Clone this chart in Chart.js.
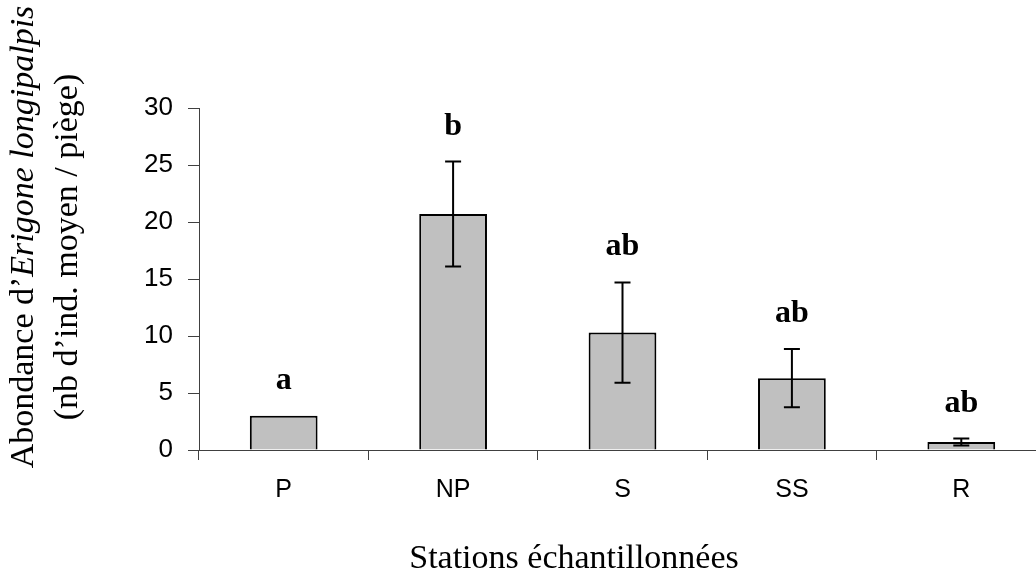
<!DOCTYPE html>
<html>
<head>
<meta charset="utf-8">
<script src="https://cdn.jsdelivr.net/npm/chart.js@4"></script>
<style>
html,body{margin:0;padding:0;background:#fff;overflow:hidden}
#wrap{width:1036px;height:570px;overflow:hidden;position:relative;background:#fff}
#wrap canvas{position:absolute;left:0;top:0}
</style>
</head>
<body>
<div id="wrap"><canvas id="c" width="1046" height="570"></canvas></div>
<script>
// ---- data ----
const categories = ['P', 'NP', 'S', 'SS', 'R'];
const means = [3.0, 20.7, 10.3, 6.3, 0.7];
const errors = [0, 4.6, 4.4, 2.55, 0.3];
const groupLetters = ['a', 'b', 'ab', 'ab', 'ab'];
const yTickValues = [0, 5, 10, 15, 20, 25, 30];
const xTitle = 'Stations échantillonnées';
const yTitleLine1 = [['Abondance d\u2019', 'normal'], ['Erigone longipalpis', 'italic']];
const yTitleLine2 = '(nb d\u2019ind. moyen / piège)';

const AXIS = '#404040';

const annotPlugin = {
  id: 'annot',
  afterDatasetsDraw(chart) {
    const ctx = chart.ctx;
    const xs = chart.scales.x, ys = chart.scales.y;
    ctx.save();
    // error bars
    ctx.strokeStyle = '#000';
    ctx.lineWidth = 2;
    means.forEach((m, i) => {
      const e = errors[i];
      const cx = xs.getPixelForValue(i);
      if (e > 0) {
        const yt = ys.getPixelForValue(m + e);
        const yb = ys.getPixelForValue(m - e);
        ctx.beginPath();
        ctx.moveTo(cx, yt); ctx.lineTo(cx, yb);
        ctx.moveTo(cx - 8, yt); ctx.lineTo(cx + 8, yt);
        ctx.moveTo(cx - 8, yb); ctx.lineTo(cx + 8, yb);
        ctx.stroke();
      }
      // significance letters
      ctx.fillStyle = '#000';
      ctx.font = 'bold 32px "Liberation Serif", "Times New Roman", serif';
      ctx.textAlign = 'center';
      ctx.textBaseline = 'alphabetic';
      ctx.fillText(groupLetters[i], cx, ys.getPixelForValue(m + e) - 27);
    });
    // x title
    ctx.font = '34px "Liberation Serif", "Times New Roman", serif';
    ctx.textAlign = 'center';
    ctx.fillText(xTitle, 574, 568);
    // y title, line 1 (mixed styles)
    ctx.save();
    ctx.translate(33, 237);
    ctx.rotate(-Math.PI / 2);
    ctx.textAlign = 'left';
    const f1 = s => (s === 'italic' ? 'italic ' : '') + '34px "Liberation Serif", "Times New Roman", serif';
    let total = 0;
    yTitleLine1.forEach(([t, s]) => { ctx.font = f1(s); total += ctx.measureText(t).width; });
    let x0 = -total / 2;
    yTitleLine1.forEach(([t, s]) => { ctx.font = f1(s); ctx.fillText(t, x0, 0); x0 += ctx.measureText(t).width; });
    ctx.restore();
    // y title, line 2
    ctx.save();
    ctx.translate(77, 247);
    ctx.rotate(-Math.PI / 2);
    ctx.textAlign = 'center';
    ctx.font = '34px "Liberation Serif", "Times New Roman", serif';
    ctx.fillText(yTitleLine2, 0, 0);
    ctx.restore();
    ctx.restore();
  }
};

new Chart(document.getElementById('c'), {
  type: 'bar',
  data: {
    labels: categories,
    datasets: [{
      data: means,
      backgroundColor: '#C0C0C0',
      borderColor: '#000',
      borderWidth: 2,
      barPercentage: 0.4,
      categoryPercentage: 1.0
    }]
  },
  options: {
    responsive: false,
    animation: false,
    devicePixelRatio: 1,
    layout: { padding: { top: 108, left: 0, right: 0, bottom: 0 } },
    plugins: { legend: { display: false }, tooltip: { enabled: false } },
    scales: {
      x: {
        type: 'category',
        offset: true,
        grid: { offset: true, drawOnChartArea: false, drawTicks: true, tickLength: 10, color: AXIS, lineWidth: 1 },
        border: { display: true, color: AXIS, width: 1 },
        ticks: { color: '#000', padding: 15, font: { family: '"Liberation Sans", Arial, sans-serif', size: 25 }, maxRotation: 0 },
        afterFit(s) { s.height = 120; }
      },
      y: {
        min: 0,
        max: 30,
        afterBuildTicks(s) { s.ticks = yTickValues.map(v => ({ value: v })); },
        grid: { drawOnChartArea: false, drawTicks: true, tickLength: 11, color: AXIS, lineWidth: 1 },
        border: { display: true, color: AXIS, width: 1 },
        ticks: { color: '#000', padding: 15, font: { family: '"Liberation Sans", Arial, sans-serif', size: 26 } },
        afterFit(s) { s.width = 199; }
      }
    }
  },
  plugins: [annotPlugin]
});
</script>
</body>
</html>
